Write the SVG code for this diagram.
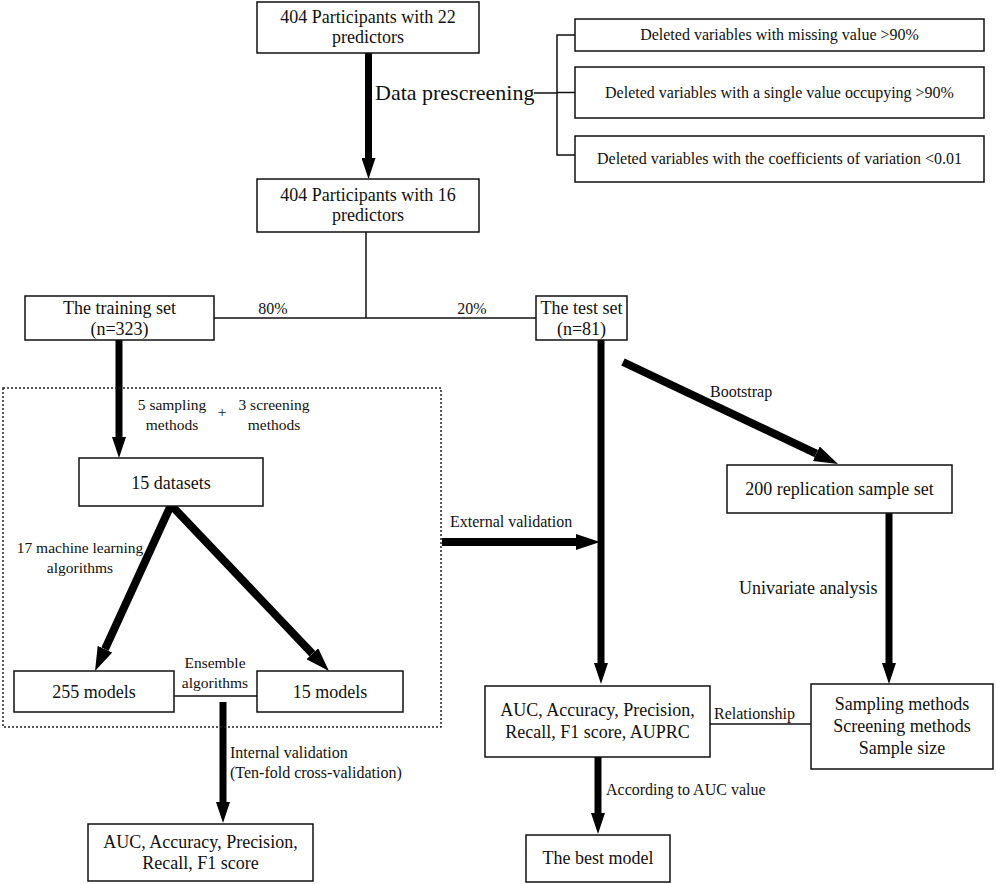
<svg xmlns="http://www.w3.org/2000/svg" width="996" height="884" viewBox="0 0 996 884" font-family="'Liberation Serif', 'Times New Roman', 'DejaVu Serif', serif">
<defs>
<style>
text{font-family:'Liberation Serif','Times New Roman','DejaVu Serif',serif;fill:#111;}
.b{fill:#fff;stroke:#111;stroke-width:1.5;}
.t18{font-size:18px;text-anchor:middle;}
.t16{font-size:16px;}
.t15{font-size:15.5px;}
.c{text-anchor:middle;}
.thin{fill:none;stroke:#111;stroke-width:1.5;}
.arr{fill:none;stroke:#000;marker-end:url(#ah);}
</style>
<marker id="ah" viewBox="0 -1 3 2" refX="0" refY="0" markerWidth="3" markerHeight="2" orient="auto" markerUnits="strokeWidth">
<path d="M0,-1 L3,0 L0,1 z" fill="#000"/>
</marker>
</defs>
<rect width="996" height="884" fill="#fff"/>

<g id="connectors">
<path class="arr" stroke-width="7" d="M368.5,53 V158"/>
<path class="thin" d="M534,93 H557 M575,35 H557 V155 H575 M557,92.5 H575"/>
<path class="thin" d="M366,232 V318 M214,318 H536"/>
<path class="arr" stroke-width="7" d="M119,340 V437"/>
<path class="arr" stroke-width="8" d="M171,505 L105,649.2"/>
<path class="arr" stroke-width="8" d="M171,505 L312.4,653.7"/>
<path class="thin" d="M174,696 H257"/>
<path class="arr" stroke-width="7" d="M223,702 V802"/>
<rect x="3" y="388" width="438" height="339" fill="none" stroke="#222" stroke-width="1.5" stroke-dasharray="2,2"/>
<path class="arr" stroke-width="8" d="M442,542 H576"/>
<path class="arr" stroke-width="7" d="M601,340 V663"/>
<path class="arr" stroke-width="8" d="M623,362 L816.3,453.7"/>
<path class="arr" stroke-width="7" d="M889,513 V663"/>
<path class="thin" d="M710,724 H811"/>
<path class="arr" stroke-width="7" d="M598,757 V813"/>
</g>

<g id="labels">
<text x="375" y="100" style="font-size:22px">Data prescreening</text>
<text x="273" y="314" class="t16 c">80%</text>
<text x="472" y="314" class="t16 c">20%</text>
<text x="172" y="410" class="t15 c">5 sampling</text>
<text x="172" y="430" class="t15 c">methods</text>
<text x="222" y="417" class="t15 c">+</text>
<text x="274" y="410" class="t15 c">3 screening</text>
<text x="274" y="430" class="t15 c">methods</text>
<text x="80" y="553" class="t15 c">17 machine learning</text>
<text x="80" y="573" class="t15 c">algorithms</text>
<text x="215" y="668" class="t15 c">Ensemble</text>
<text x="215" y="688" class="t15 c">algorithms</text>
<text x="230" y="758" class="t16">Internal validation</text>
<text x="230" y="778" class="t16">(Ten-fold cross-validation)</text>
<text x="450" y="527" class="t16">External validation</text>
<text x="710" y="397" class="t16">Bootstrap</text>
<text x="739" y="594" style="font-size:18px">Univariate analysis</text>
<text x="714" y="719" class="t16">Relationship</text>
<text x="606" y="795" class="t16">According to AUC value</text>
</g>

<g id="n-p22"><rect class="b" x="257" y="2" width="222" height="51"/>
<text x="368" y="23" class="t18">404 Participants with 22</text><text x="368" y="43" class="t18">predictors</text></g>

<g id="n-p16"><rect class="b" x="257" y="179" width="222" height="53"/>
<text x="368" y="201" class="t18">404 Participants with 16</text><text x="368" y="221" class="t18">predictors</text></g>

<g id="n-del1"><rect class="b" x="575" y="19" width="409" height="32"/>
<text x="779.5" y="40" class="c" style="font-size:16px">Deleted variables with missing value &gt;90%</text></g>
<g id="n-del2"><rect class="b" x="575" y="67" width="409" height="51"/>
<text x="779.5" y="98" class="c" style="font-size:16px">Deleted variables with a single value occupying &gt;90%</text></g>
<g id="n-del3"><rect class="b" x="575" y="136" width="409" height="46"/>
<text x="779.5" y="164" class="c" style="font-size:16px">Deleted variables with the coefficients of variation &lt;0.01</text></g>

<g id="n-train"><rect class="b" x="25" y="296" width="189" height="44"/>
<text x="119.5" y="314" class="t18">The training set</text><text x="119.5" y="335" class="t18">(n=323)</text></g>

<g id="n-test"><rect class="b" x="536" y="296" width="91" height="44"/>
<text x="581.5" y="314" class="t18">The test set</text><text x="581.5" y="335" class="t18">(n=81)</text></g>

<g id="n-15ds"><rect class="b" x="79" y="458" width="184" height="48"/>
<text x="171" y="489" class="t18">15 datasets</text></g>

<g id="n-255"><rect class="b" x="14" y="671" width="160" height="41"/>
<text x="94" y="698" class="t18">255 models</text></g>

<g id="n-15m"><rect class="b" x="257" y="671" width="146" height="41"/>
<text x="330" y="698" class="t18">15 models</text></g>

<g id="n-int"><rect class="b" x="88" y="824" width="225" height="57"/>
<text x="200.5" y="848" class="t18">AUC, Accuracy, Precision,</text><text x="200.5" y="869" class="t18">Recall, F1 score</text></g>

<g id="n-200"><rect class="b" x="727" y="465" width="225" height="48"/>
<text x="839.5" y="495" class="t18">200 replication sample set</text></g>

<g id="n-ext"><rect class="b" x="485" y="686" width="225" height="71"/>
<text x="597.5" y="716" class="t18">AUC, Accuracy, Precision,</text><text x="597.5" y="738" class="t18">Recall, F1 score, AUPRC</text></g>

<g id="n-samp"><rect class="b" x="811" y="684" width="182" height="85"/>
<text x="902" y="710" class="t18">Sampling methods</text><text x="902" y="732" class="t18">Screening methods</text><text x="902" y="754" class="t18">Sample size</text></g>

<g id="n-best"><rect class="b" x="526" y="835" width="144" height="47"/>
<text x="598" y="864" class="t18">The best model</text></g>
</svg>
